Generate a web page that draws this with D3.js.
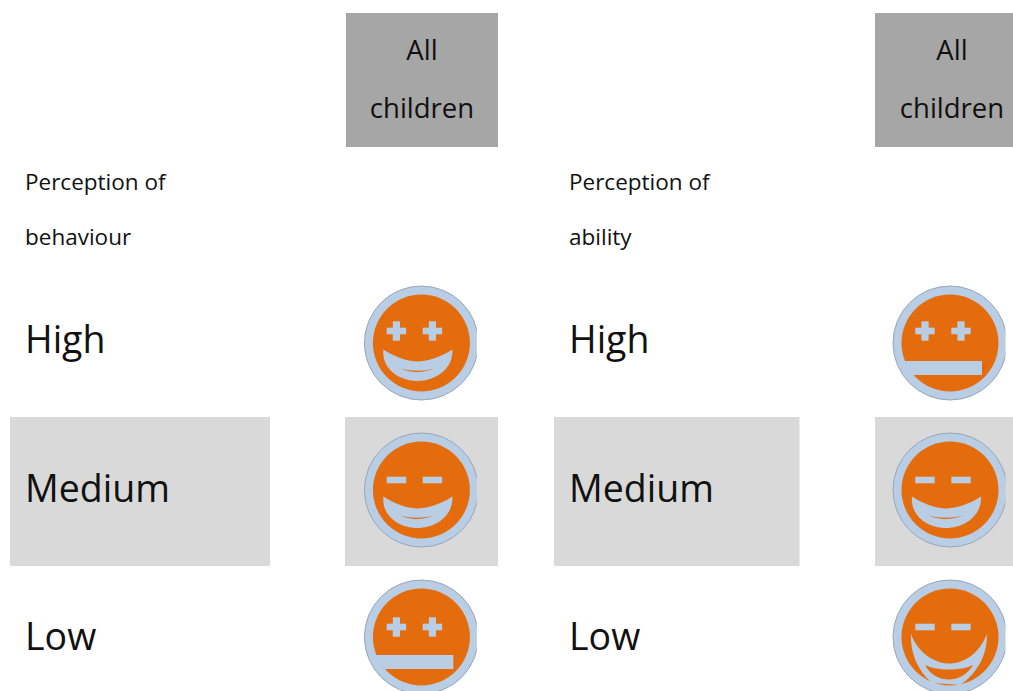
<!DOCTYPE html>
<html lang="en">
<head>
  <meta charset="UTF-8">
  <title>Perception of behaviour and ability</title>
  <script src="https://cdn.jsdelivr.net/npm/d3@7"></script>
  <style>
    html, body { margin: 0; padding: 0; background: #fff; overflow: hidden; }
    svg { display: block; font-family: "Open Sans", Lato, sans-serif; fill: #111; }
  </style>
</head>
<body>
  <svg width="1013" height="691"></svg>
  <script>
    const panels = ['behaviour', 'ability']
    const rowLabels = ['High', 'Medium', 'Low']
    const headerLines = ['All', 'children']
    const eyes = {
      behaviour: ['plus', 'minus', 'plus'],
      ability: ['plus', 'minus', 'minus']
    }
    const mouths = {
      behaviour: ['smile', 'smile', 'flat'],
      ability: ['flat', 'smile', 'wide']
    }

    const ORANGE = '#e46c0a'
    const BLUE = '#b9cde5'

    const svg = d3.select('svg')

    const panelX = d3.scaleOrdinal().domain(panels).range([25, 569])
    const faceX = d3.scaleOrdinal().domain(panels).range([421.4, 950])
    const headerX = d3.scaleOrdinal().domain(panels).range([346, 875])
    const rowY = d3.scalePoint().domain(rowLabels).range([343, 637])
    const labelY = d3.scaleOrdinal().domain(rowLabels).range([353, 502, 650])
    const eyeY = d3.scaleOrdinal().domain(rowLabels).range([-12, -10, -10])

    const mouthPaths = {
      smile: {
        blue: 'M-38,6.5 C-25,15 -12,18.5 -4,18.5 C4,18.5 18,15 31,6.5 C32,26 14,38 -4,38 C-22,38 -40,26 -38,6.5 Z',
        orange: 'M-21,25.5 C-10,28.5 2,28.5 12,25.5 C3,30 -12,30 -21,25.5 Z'
      },
      flat: {
        blue: 'M-50,18 H32 V32 H-46 Z',
        orange: ''
      },
      wide: {
        blue: 'M-39,-3 C-32,16 -15,26.5 -1,26.5 C14,26.5 30,16 36.7,-3 C38,16 28,36 10,48 L-18,46 C-32,34 -40,16 -39,-3 Z',
        orange: 'M-25,28 C-14,34 12,34 23,28 C17,38 8,42.5 -1,42.5 C-10,42.5 -20,38 -25,28 Z'
      }
    }

    // the faces are soft bitmaps in the original
    svg.append('filter').attr('id', 'soft')
      .append('feGaussianBlur').attr('stdDeviation', 0.5)

    // grey backgrounds
    svg.selectAll('rect.band')
      .data([[10, 260], [554, 245.5], [345, 153], [875, 138]])
      .enter().append('rect')
      .attr('class', 'band')
      .attr('x', d => d[0]).attr('y', 417)
      .attr('width', d => d[1]).attr('height', 149)
      .attr('fill', '#d9d9d9')

    panels.forEach((panel, p) => {
      const header = svg.append('g')
      header.append('rect')
        .attr('x', headerX(panel)).attr('y', 13)
        .attr('width', p ? 138 : 152).attr('height', 134)
        .attr('fill', '#a6a6a6')
      header.selectAll('text')
        .data(headerLines)
        .enter().append('text')
        .attr('x', headerX(panel) + (p ? 77 : 76))
        .attr('y', (d, i) => 60 + i * 58)
        .attr('text-anchor', 'middle')
        .attr('font-size', 27.5)
        .text(d => d)

      svg.selectAll(`text.t${p}`)
        .data(['Perception of', panel])
        .enter().append('text')
        .attr('class', `t${p}`)
        .attr('x', panelX(panel))
        .attr('y', (d, i) => 190 + i * 55)
        .attr('font-size', 22.5)
        .text(d => d)

      rowLabels.forEach((row, r) => {
        svg.append('text')
          .attr('x', panelX(panel))
          .attr('y', labelY(row))
          .attr('font-size', 37.5)
          .text(row)

        const cx = faceX(panel)
        const cy = rowY(row)
        const clipId = `clip-${p}-${r}`
        svg.append('clipPath').attr('id', clipId)
          .append('rect')
          .attr('x', cx - 60).attr('y', cy - 60)
          .attr('width', 115.5).attr('height', 120)

        const face = svg.append('g').attr('clip-path', `url(#${clipId})`)
          .append('g')
          .attr('transform', `translate(${cx},${cy})`)
          .attr('filter', 'url(#soft)')

        face.append('circle').attr('r', 57)
          .attr('fill', BLUE).attr('stroke', '#98a6b5').attr('stroke-width', 1)
        face.append('circle').attr('r', 48.5).attr('fill', ORANGE)

        // eyes
        const eye = eyes[panel][r]
        const ey = eyeY(row)
        ;[-25, 11].forEach(ex => {
          face.append('rect')
            .attr('x', ex - 9.7).attr('y', ey - 3.3)
            .attr('width', 19.4).attr('height', 6.6)
            .attr('fill', BLUE)
          if (eye === 'plus') {
            face.append('rect')
              .attr('x', ex - 3.6).attr('y', ey - 9.7)
              .attr('width', 7.2).attr('height', 19.4)
              .attr('fill', BLUE)
          }
        })

        const mouth = mouthPaths[mouths[panel][r]]
        face.append('path').attr('d', mouth.blue).attr('fill', BLUE)
        if (mouth.orange) face.append('path').attr('d', mouth.orange).attr('fill', ORANGE)
      })
    })
  </script>
</body>
</html>
